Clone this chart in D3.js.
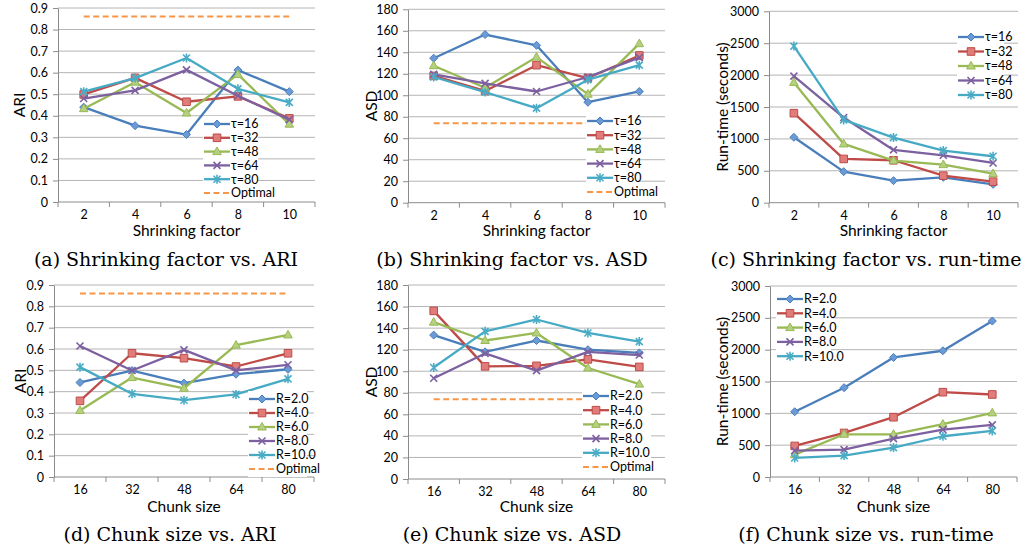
<!DOCTYPE html>
<html>
<head>
<meta charset="utf-8">
<script src="https://cdn.jsdelivr.net/npm/d3@7"></script>
<style>
  body { margin: 0; background: #fff; }
  text { font-family: Lato, "Liberation Sans", sans-serif; fill: #000; }
  .caption { font-family: "DejaVu Serif", serif; font-size: 19px; }
</style>
</head>
<body>
<div id="chart"></div>
<script>
// categories and series names
const shrinkFactors = ["2", "4", "6", "8", "10"];
const chunkSizes = ["16", "32", "48", "64", "80"];
const tauNames = ["τ=16", "τ=32", "τ=48", "τ=64", "τ=80"];
const rNames = ["R=2.0", "R=4.0", "R=6.0", "R=8.0", "R=10.0"];

// values, one row per series
const ariShrink = [
  [0.44, 0.354, 0.313, 0.612, 0.512],
  [0.499, 0.576, 0.465, 0.49, 0.388],
  [0.433, 0.556, 0.413, 0.592, 0.361],
  [0.48, 0.518, 0.613, 0.493, 0.382],
  [0.512, 0.575, 0.668, 0.525, 0.462]
];
const asdShrink = [
  [134.5, 156.5, 146.5, 93.5, 103.5],
  [118, 104, 128, 116, 137],
  [127.5, 107, 135.5, 101, 148],
  [119.5, 111, 103.5, 117, 135],
  [117, 103, 88, 114.5, 128]
];
const timeShrink = [
  [1025, 487, 346, 398, 288],
  [1403, 686, 665, 424, 330],
  [1885, 921, 660, 597, 455],
  [1984, 1335, 827, 743, 623],
  [2455, 1298, 1020, 817, 728]
];
const ariChunk = [
  [0.443, 0.499, 0.44, 0.482, 0.505],
  [0.357, 0.58, 0.557, 0.518, 0.58],
  [0.312, 0.466, 0.416, 0.618, 0.666],
  [0.614, 0.499, 0.596, 0.5, 0.526],
  [0.515, 0.39, 0.36, 0.387, 0.46]
];
const asdChunk = [
  [133.5, 118, 128.5, 120, 117],
  [156, 104.5, 105, 111, 104],
  [145.5, 128.5, 135.5, 103, 88],
  [93.5, 116.5, 100.5, 118, 115],
  [103.5, 137, 148, 135.5, 127.5]
];
const timeChunk = [
  [1025, 1403, 1878, 1983, 2450],
  [488, 692, 939, 1332, 1296],
  [351, 671, 671, 829, 1007],
  [414, 430, 603, 745, 818],
  [299, 336, 462, 640, 724]
];
const ariOptimal = 0.86;
const asdOptimal = 74;

// tick labels
const ariTicks = [0, 0.1, 0.2, 0.3, 0.4, 0.5, 0.6, 0.7, 0.8, 0.9];
const asdTicks = [0, 20, 40, 60, 80, 100, 120, 140, 160, 180];
const timeTicks = [0, 500, 1000, 1500, 2000, 2500, 3000];

// series look (excel defaults)
const lineColors = ["#4a7ebb", "#be4b48", "#98b954", "#7d60a0", "#46aac5"];
const markerFills = ["#6b9bd6", "#e07d7a", "#b5d07f", "#7d60a0", "#4bacc6"];
const markerPaths = [
  "M0,-4L4,0L0,4L-4,0Z",
  "M-3.8,-3.8H3.8V3.8H-3.8Z",
  "M0,-4.6L4.3,3L-4.3,3Z",
  "M-3.5,-3.5L3.5,3.5M-3.5,3.5L3.5,-3.5",
  "M-3.5,-3.5L3.5,3.5M-3.5,3.5L3.5,-3.5M0,-4.5V4.5"
];
const optimalColor = "#f79646";

const svg = d3.select("#chart").append("svg")
  .attr("width", 1028)
  .attr("height", 552);

const panels = [
  { L: 58, R: 315, T: 8, B: 202, cats: shrinkFactors, names: tauNames, values: ariShrink,
    optimal: ariOptimal, ticks: ariTicks, fmt: d3.format(".1f"), yTitle: "ARI", yTitleX: 20,
    xTitle: "Shrinking factor", xTitleY: 231, caption: "(a) Shrinking factor vs. ARI",
    capX: 166, capY: 266, leg: { x: 204, y: 124, step: 13.8, w: 55 } },
  { L: 408, R: 665, T: 9.3, B: 202.7, cats: shrinkFactors, names: tauNames, values: asdShrink,
    optimal: asdOptimal, ticks: asdTicks, fmt: d3.format("d"), yTitle: "ASD", yTitleX: 372,
    xTitle: "Shrinking factor", xTitleY: 231, caption: "(b) Shrinking factor vs. ASD",
    capX: 512, capY: 266, leg: { x: 587, y: 121, step: 14.2, w: 53 } },
  { L: 769, R: 1018, T: 11.3, B: 202.7, cats: shrinkFactors, names: tauNames, values: timeShrink,
    optimal: null, ticks: timeTicks, fmt: d3.format("d"), yTitle: "Run-time (seconds)", yTitleX: 723,
    xTitle: "Shrinking factor", xTitleY: 231, caption: "(c) Shrinking factor vs. run-time",
    capX: 866, capY: 266, leg: { x: 958, y: 37, step: 14.5, w: 47 } },
  { L: 54, R: 314, T: 285, B: 477, cats: chunkSizes, names: rNames, values: ariChunk,
    optimal: ariOptimal, ticks: ariTicks, fmt: d3.format(".1f"), yTitle: "ARI", yTitleX: 21,
    xTitle: "Chunk size", xTitleY: 507, caption: "(d) Chunk size vs. ARI",
    capX: 170, capY: 541, leg: { x: 249, y: 399, step: 14, w: 59 } },
  { L: 408, R: 665, T: 285, B: 479, cats: chunkSizes, names: rNames, values: asdChunk,
    optimal: asdOptimal, ticks: asdTicks, fmt: d3.format("d"), yTitle: "ASD", yTitleX: 372,
    xTitle: "Chunk size", xTitleY: 507, caption: "(e) Chunk size vs. ASD",
    capX: 512, capY: 541, leg: { x: 583, y: 396, step: 14.2, w: 69 } },
  { L: 770, R: 1017, T: 286, B: 477, cats: chunkSizes, names: rNames, values: timeChunk,
    optimal: null, ticks: timeTicks, fmt: d3.format("d"), yTitle: "Run-time (seconds)", yTitleX: 723,
    xTitle: "Chunk size", xTitleY: 507, caption: "(f) Chunk size vs. run-time",
    capX: 866, capY: 541, leg: { x: 777, y: 299, step: 14.3, w: 55 } }
];

function drawMarker(g, i, x, y) {
  const m = g.append("path")
    .attr("d", markerPaths[i])
    .attr("transform", `translate(${x},${y})`);
  if (i < 3) {
    m.attr("fill", markerFills[i]).attr("stroke", lineColors[i]).attr("stroke-width", 1);
  } else {
    m.attr("fill", "none").attr("stroke", markerFills[i]).attr("stroke-width", 1.6);
  }
}

panels.forEach(p => {
  const g = svg.append("g");

  const x = d3.scalePoint().domain(p.cats).range([p.L, p.R]).padding(0.5);
  const xb = d3.scaleBand().domain(p.cats).range([p.L, p.R]);
  const y = d3.scaleLinear().domain([0, d3.max(p.ticks)]).range([p.B, p.T]);

  // gridlines
  g.selectAll(".grid")
    .data(p.ticks.filter(t => t > 0))
    .enter().append("line")
    .attr("x1", p.L).attr("x2", p.R)
    .attr("y1", d => y(d)).attr("y2", d => y(d))
    .attr("stroke", "#b4b4b4")
    .attr("stroke-width", 1);

  // y axis
  const yAxis = g.append("g")
    .attr("transform", `translate(${p.L},0)`)
    .call(d3.axisLeft(y).tickValues(p.ticks).tickSize(5).tickSizeOuter(0).tickPadding(5)
      .tickFormat(d => d === 0 ? "0" : p.fmt(d)));
  yAxis.selectAll("path, line").attr("stroke", "#8c8c8c");
  yAxis.selectAll("text").attr("font-size", 12.5).attr("font-family", "Lato, sans-serif").attr("fill", "#000");

  // x axis: labels at category centers, ticks at boundaries
  const xAxis = g.append("g")
    .attr("transform", `translate(0,${p.B})`)
    .call(d3.axisBottom(x).tickSize(0).tickPadding(8));
  xAxis.select(".domain").remove();
  xAxis.selectAll("text").attr("font-size", 12.5).attr("font-family", "Lato, sans-serif").attr("fill", "#000");

  g.append("line")
    .attr("x1", p.L).attr("x2", p.R)
    .attr("y1", p.B).attr("y2", p.B)
    .attr("stroke", "#8c8c8c");
  g.selectAll(".xtick")
    .data(p.cats.map(c => xb(c)).concat([p.R]))
    .enter().append("line")
    .attr("x1", d => d).attr("x2", d => d)
    .attr("y1", p.B).attr("y2", p.B + 5)
    .attr("stroke", "#8c8c8c");

  // series
  const line = d3.line()
    .x((d, i) => x(p.cats[i]))
    .y(d => y(d));

  if (p.optimal !== null) {
    g.append("path")
      .datum(p.cats.map(() => p.optimal))
      .attr("d", line)
      .attr("fill", "none")
      .attr("stroke", optimalColor)
      .attr("stroke-width", 2)
      .attr("stroke-dasharray", "6,3.5");
  }

  p.values.forEach((vals, i) => {
    g.append("path")
      .datum(vals)
      .attr("d", line)
      .attr("fill", "none")
      .attr("stroke", lineColors[i])
      .attr("stroke-width", 2.3)
      .attr("stroke-linejoin", "round");
    vals.forEach((v, j) => drawMarker(g, i, x(p.cats[j]), y(v)));
  });

  // legend
  const lg = p.leg;
  const n = p.names.length + (p.optimal !== null ? 1 : 0);
  const legend = g.append("g");
  legend.append("rect")
    .attr("x", lg.x - 1)
    .attr("y", lg.y - lg.step / 2 - 1)
    .attr("width", lg.w)
    .attr("height", n * lg.step + 2)
    .attr("fill", "#fff");
  p.names.forEach((name, i) => {
    const ly = lg.y + i * lg.step;
    legend.append("line")
      .attr("x1", lg.x).attr("x2", lg.x + 26)
      .attr("y1", ly).attr("y2", ly)
      .attr("stroke", lineColors[i])
      .attr("stroke-width", 2.3);
    drawMarker(legend, i, lg.x + 13, ly);
    legend.append("text")
      .attr("x", lg.x + 27).attr("y", ly)
      .attr("dy", "0.35em")
      .attr("font-size", 12.5)
      .text(name);
  });
  if (p.optimal !== null) {
    const ly = lg.y + p.names.length * lg.step;
    legend.append("line")
      .attr("x1", lg.x).attr("x2", lg.x + 26)
      .attr("y1", ly).attr("y2", ly)
      .attr("stroke", optimalColor)
      .attr("stroke-width", 2)
      .attr("stroke-dasharray", "6,3.5");
    legend.append("text")
      .attr("x", lg.x + 27).attr("y", ly)
      .attr("dy", "0.35em")
      .attr("font-size", 12.5)
      .text("Optimal");
  }

  // axis titles
  g.append("text")
    .attr("transform", `translate(${p.yTitleX},${(p.T + p.B) / 2})rotate(-90)`)
    .attr("text-anchor", "middle")
    .attr("dy", "0.35em")
    .attr("font-size", 15.5)
    .text(p.yTitle);
  g.append("text")
    .attr("x", (p.L + p.R) / 2)
    .attr("y", p.xTitleY)
    .attr("text-anchor", "middle")
    .attr("dy", "0.35em")
    .attr("font-size", 15.5)
    .text(p.xTitle);

  // caption
  g.append("text")
    .attr("class", "caption")
    .attr("x", p.capX)
    .attr("y", p.capY)
    .attr("text-anchor", "middle")
    .text(p.caption);
});
</script>
</body>
</html>
